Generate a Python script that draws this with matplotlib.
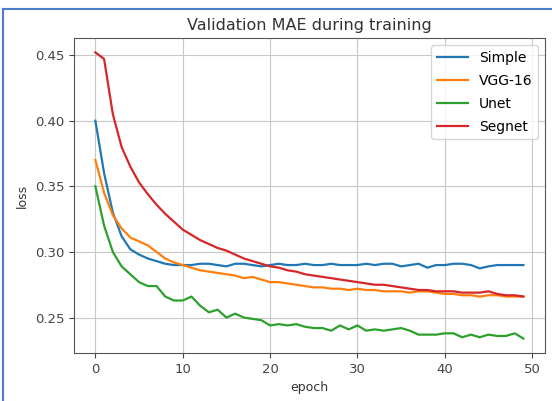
import matplotlib
matplotlib.use("Agg")
import matplotlib.pyplot as plt
from matplotlib.lines import Line2D

# validation MAE per epoch
epochs = list(range(50))

simple = [0.400, 0.360, 0.330, 0.312, 0.302, 0.298, 0.295, 0.293, 0.291, 0.290,
          0.290, 0.290, 0.291, 0.291, 0.290, 0.289, 0.291, 0.291, 0.290, 0.289,
          0.290, 0.291, 0.290, 0.290, 0.291, 0.290, 0.290, 0.291, 0.290, 0.290,
          0.290, 0.291, 0.290, 0.291, 0.291, 0.289, 0.290, 0.291, 0.288, 0.290,
          0.290, 0.291, 0.291, 0.290, 0.2875, 0.289, 0.290, 0.290, 0.290, 0.290]

vgg16 = [0.370, 0.345, 0.328, 0.318, 0.311, 0.308, 0.305, 0.300, 0.295, 0.292,
         0.290, 0.288, 0.286, 0.285, 0.284, 0.283, 0.282, 0.280, 0.281, 0.279,
         0.277, 0.277, 0.276, 0.275, 0.274, 0.273, 0.273, 0.272, 0.272, 0.271,
         0.272, 0.271, 0.271, 0.270, 0.270, 0.270, 0.269, 0.270, 0.270, 0.269,
         0.268, 0.268, 0.267, 0.267, 0.266, 0.267, 0.267, 0.266, 0.266, 0.266]

unet = [0.350, 0.320, 0.300, 0.289, 0.283, 0.277, 0.274, 0.274, 0.266, 0.263,
        0.263, 0.266, 0.259, 0.254, 0.256, 0.250, 0.253, 0.250, 0.249, 0.248,
        0.244, 0.245, 0.244, 0.245, 0.243, 0.242, 0.242, 0.240, 0.244, 0.241,
        0.244, 0.240, 0.241, 0.240, 0.241, 0.242, 0.240, 0.237, 0.237, 0.237,
        0.238, 0.238, 0.235, 0.237, 0.235, 0.237, 0.236, 0.236, 0.238, 0.234]

segnet = [0.452, 0.447, 0.405, 0.380, 0.365, 0.353, 0.344, 0.336, 0.329, 0.323,
          0.317, 0.313, 0.309, 0.306, 0.303, 0.301, 0.298, 0.295, 0.293, 0.291,
          0.289, 0.288, 0.286, 0.285, 0.283, 0.282, 0.281, 0.280, 0.279, 0.278,
          0.277, 0.276, 0.275, 0.275, 0.274, 0.273, 0.272, 0.271, 0.271, 0.270,
          0.270, 0.270, 0.269, 0.269, 0.269, 0.270, 0.268, 0.267, 0.267, 0.266]

fig = plt.figure(figsize=(5.52, 4.01), dpi=100)
ax = fig.add_axes([0.134, 0.120, 0.853, 0.785])

ax.plot(epochs, simple, label="Simple", lw=1.6)
ax.plot(epochs, vgg16, label="VGG-16", lw=1.6)
ax.plot(epochs, unet, label="Unet", lw=1.6)
ax.plot(epochs, segnet, label="Segnet", lw=1.6)

ax.set_title("Validation MAE during training", fontsize=11.5, color="#333333")
ax.set_xlabel("epoch", fontsize=9, color="#333333")
ax.set_ylabel("loss", fontsize=9, color="#333333")
ax.set_xticks([0, 10, 20, 30, 40, 50])
ax.set_yticks([0.25, 0.30, 0.35, 0.40, 0.45])
ax.tick_params(labelsize=9.5, colors="#444444")
ax.grid(True, color="#c8c8c8", lw=0.8)
for s in ax.spines.values():
    s.set_color("#555555")
ax.legend(loc="upper right", fontsize=10, labelspacing=0.65, handlelength=2.2)

# blue frame of the screenshot
fig.add_artist(Line2D([0.006, 0.006], [0.0, 0.977], transform=fig.transFigure, color="#4a7cc9", lw=1.5))
fig.add_artist(Line2D([0.006, 1.0], [0.977, 0.977], transform=fig.transFigure, color="#4a7cc9", lw=1.5))

fig.savefig("out.png", dpi=100)
